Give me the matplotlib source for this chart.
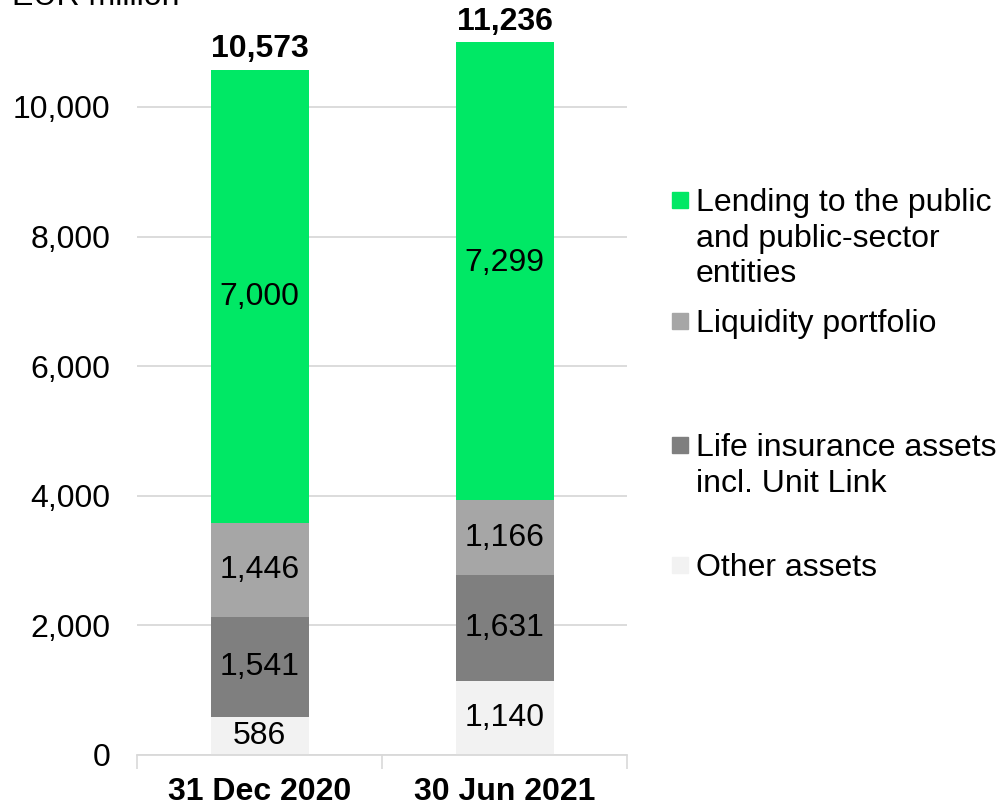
import matplotlib
matplotlib.use("Agg")
import matplotlib.pyplot as plt
from matplotlib.patches import Rectangle
import numpy as np

plt.rcParams['font.family'] = ['Liberation Sans', 'DejaVu Sans']

categories = ["31 Dec 2020", "30 Jun 2021"]
series_names = ["Other assets", "Life insurance assets\nincl. Unit Link",
                "Liquidity portfolio", "Lending to the public\nand public-sector\nentities"]
other = [586, 1140]
life = [1541, 1631]
liquidity = [1446, 1166]
lending = [7000, 7299]
totals = [10573, 11236]
colors = ["#F2F2F2", "#7F7F7F", "#A6A6A6", "#00E865"]
yticks = [0, 2000, 4000, 6000, 8000, 10000]

FS = 23
W, H = 1000, 807
fig = plt.figure(figsize=(W / 100, H / 100), dpi=100)
ax_left, ax_right = 137 / W, 627 / W
ax_bottom = 1 - 755 / H
ymax = 11000
px_per_unit = (755 - 107) / 10000
ax_height = ymax * px_per_unit / H
ax = fig.add_axes([ax_left, ax_bottom, ax_right - ax_left, ax_height])

x = np.arange(len(categories))
series = [other, life, liquidity, lending]
bottom = np.zeros(len(categories))
for vals, c in zip(series, colors):
    vals = np.array(vals, dtype=float)
    ax.bar(x, vals, 0.4, bottom=bottom, color=c, zorder=3)
    for xi, v, b in zip(x, vals, bottom):
        ax.text(xi, b + v / 2, f"{int(v):,}", ha='center', va='center',
                fontsize=FS, color='black', zorder=4)
    bottom += vals

for xi, t in zip(x, totals):
    ax.annotate(f"{t:,}", (xi, min(t, ymax)), xytext=(0, 9), textcoords='offset points',
                ha='center', va='baseline', fontsize=FS, fontweight='bold',
                annotation_clip=False)

ax.set_xlim(-0.5, len(categories) - 0.5)
ax.set_ylim(0, ymax)
ax.set_yticks(yticks)
ax.set_yticklabels([f"{v:,}" for v in yticks], fontsize=FS)
ax.tick_params(axis='y', length=0, pad=19)
ax.set_xticks(x)
ax.set_xticklabels(categories, fontsize=FS, fontweight='bold')
ax.tick_params(axis='x', which='major', length=0, pad=16)
ax.set_xticks(np.arange(len(categories) + 1) - 0.5, minor=True)
ax.tick_params(axis='x', which='minor', length=10, width=1.2, color='#D9D9D9')
ax.grid(axis='y', color='#D9D9D9', linewidth=1.3, zorder=0)
for s in ['top', 'right', 'left']:
    ax.spines[s].set_visible(False)
ax.spines['bottom'].set_color('#D9D9D9')
ax.spines['bottom'].set_linewidth(1.3)
ax.spines['bottom'].set_zorder(5)

fig.text(12 / W, 1 - 5 / H, "EUR million", fontsize=FS, ha='left', va='baseline')

# legend (top to bottom): lending, liquidity, life, other
legend_order = [3, 2, 1, 0]
marker_tops = [192, 313, 437, 557]
for idx, top in zip(legend_order, marker_tops):
    fig.patches.append(Rectangle((672 / W, 1 - (top + 16) / H), 16 / W, 16 / H,
                                 transform=fig.transFigure, color=colors[idx]))
    fig.text(696 / W, 1 - (top - 4) / H, series_names[idx], fontsize=FS,
             ha='left', va='top', linespacing=1.25)

fig.savefig("out.png", dpi=100)
